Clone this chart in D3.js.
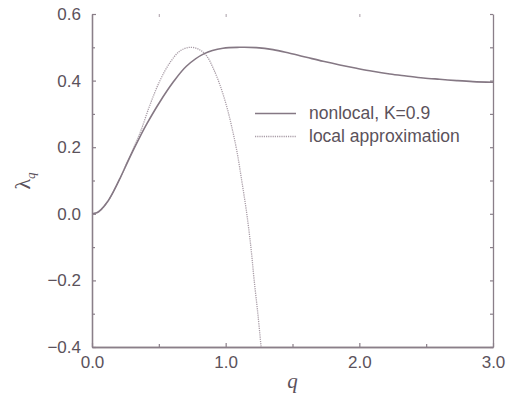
<!DOCTYPE html>
<html>
<head>
<meta charset="utf-8">
<script src="https://cdn.jsdelivr.net/npm/d3@7"></script>
<style>
  html, body { margin: 0; padding: 0; background: #fff; }
  svg { display: block; }
  text { font-family: "Liberation Sans", Arial, Helvetica, sans-serif; fill: #5b525b; }
</style>
</head>
<body>
<svg id="chart" width="509" height="398"></svg>
<script>
// Growth rate lambda_q versus wavenumber q
const nonlocalQ = [0, 0.035, 0.066, 0.116, 0.166, 0.216, 0.266, 0.316, 0.366, 0.41, 0.506, 0.605, 0.706, 0.84, 0.98, 1.105, 1.23, 1.354, 1.479, 1.604, 1.729, 1.854, 1.979, 2.1, 2.228, 2.35, 2.478, 2.6, 2.73, 2.85, 3.0];
const nonlocalL = [0, 0.003, 0.012, 0.036, 0.071, 0.112, 0.155, 0.197, 0.237, 0.27, 0.335, 0.394, 0.443, 0.481, 0.497, 0.5, 0.499, 0.493, 0.482, 0.47, 0.458, 0.447, 0.437, 0.428, 0.42, 0.414, 0.408, 0.404, 0.4, 0.397, 0.395];

const localQ = [0, 0.035, 0.066, 0.116, 0.166, 0.216, 0.266, 0.316, 0.366, 0.43, 0.506, 0.58, 0.655, 0.733, 0.808, 0.858, 0.907, 0.958, 1.008, 1.045, 1.083, 1.122, 1.158, 1.19, 1.212, 1.242, 1.265];
const localL = [0, 0.003, 0.012, 0.036, 0.071, 0.112, 0.157, 0.202, 0.25, 0.323, 0.398, 0.452, 0.488, 0.5, 0.492, 0.474, 0.437, 0.386, 0.322, 0.262, 0.19, 0.095, 0.0, -0.105, -0.195, -0.305, -0.4];

const xMajorTicks = [0, 1, 2, 3];
const xMinorTicks = [0.5, 1.5, 2.5];
const topTicks = [0.5, 1, 2];
const yMajorTicks = [-0.4, -0.2, 0, 0.2, 0.4, 0.6];
const yMinorTicks = [-0.3, -0.1, 0.1, 0.3, 0.5];
const legendLabels = ["nonlocal, K=0.9", "local approximation"];

const axisColor = "#8a7f89";
const solidColor = "#857884";
const dotColor = "#a89ca6";

const svg = d3.select("#chart");
const plotLeft = 92, plotRight = 493, plotTop = 14, plotBottom = 347;

const x = d3.scaleLinear().domain([0, 3]).range([plotLeft, plotRight]);
const y = d3.scaleLinear().domain([-0.4, 0.6]).range([plotBottom, plotTop]);

const fmt = v => (v < 0 ? "\u2212" : "") + Math.abs(v).toFixed(1);

function styleAxis(g) {
  g.selectAll(".domain").attr("stroke", axisColor).attr("stroke-width", 1.3);
  g.selectAll(".tick line").attr("stroke", axisColor).attr("stroke-width", 1.2);
  g.selectAll(".tick text").attr("fill", "#5b525b")
    .style("font-family", "'Liberation Sans', Arial, sans-serif").style("font-size", "17px");
}

// left axis with labels
svg.append("g").attr("transform", `translate(${plotLeft},0)`)
  .call(d3.axisLeft(y).tickValues(yMajorTicks).tickSize(-4).tickPadding(11).tickFormat(fmt).tickSizeOuter(0))
  .call(styleAxis);
svg.append("g").attr("transform", `translate(${plotLeft},0)`)
  .call(d3.axisLeft(y).tickValues(yMinorTicks).tickSize(-3).tickFormat("").tickSizeOuter(0))
  .call(styleAxis);

// right axis, ticks only
svg.append("g").attr("transform", `translate(${plotRight},0)`)
  .call(d3.axisRight(y).tickValues(yMajorTicks.concat(yMinorTicks)).tickSize(-3).tickFormat("").tickSizeOuter(0))
  .call(styleAxis);

// bottom axis with labels
svg.append("g").attr("transform", `translate(0,${plotBottom})`)
  .call(d3.axisBottom(x).tickValues(xMajorTicks).tickSize(-4).tickPadding(9).tickFormat(d => d.toFixed(1)).tickSizeOuter(0))
  .call(styleAxis);
svg.append("g").attr("transform", `translate(0,${plotBottom})`)
  .call(d3.axisBottom(x).tickValues(xMinorTicks).tickSize(-3).tickFormat("").tickSizeOuter(0))
  .call(styleAxis);

// top ticks (no frame line)
const topAxis = svg.append("g").attr("transform", `translate(0,${plotTop})`)
  .call(d3.axisTop(x).tickValues(topTicks).tickSize(-3).tickFormat("").tickSizeOuter(0))
  .call(styleAxis);
topAxis.select(".domain").remove();
topAxis.selectAll(".tick line").attr("stroke", "#b8aeb6");

// curves
const line = d3.line().x(d => x(d[0])).y(d => y(d[1])).curve(d3.curveCatmullRom.alpha(0.5));
const nonlocalData = nonlocalQ.map((q, i) => [q, nonlocalL[i]]);
const localData = localQ.map((q, i) => [q, localL[i]]);

svg.append("clipPath").attr("id", "plotClip")
  .append("rect").attr("x", plotLeft).attr("y", plotTop - 2)
  .attr("width", plotRight - plotLeft).attr("height", plotBottom - plotTop + 2);

svg.append("path").datum(localData)
  .attr("d", line).attr("fill", "none")
  .attr("stroke", dotColor).attr("stroke-width", 1.3)
  .attr("stroke-dasharray", "1.2,1")
  .attr("clip-path", "url(#plotClip)");

svg.append("path").datum(nonlocalData)
  .attr("d", line).attr("fill", "none")
  .attr("stroke", solidColor).attr("stroke-width", 1.6)
  .attr("clip-path", "url(#plotClip)");

// legend
const legend = svg.append("g");
const legendRows = [
  { label: legendLabels[0], color: solidColor, dash: null, w: 1.6, ly: 113.5 },
  { label: legendLabels[1], color: dotColor, dash: "1.2,1", w: 1.3, ly: 136.5 }
];
legendRows.forEach(r => {
  legend.append("line")
    .attr("x1", 255).attr("x2", 296).attr("y1", r.ly).attr("y2", r.ly)
    .attr("stroke", r.color).attr("stroke-width", r.w)
    .attr("stroke-dasharray", r.dash);
  legend.append("text")
    .attr("x", 309).attr("y", r.ly + 5.5)
    .style("font-size", "17.5px")
    .text(r.label);
});

// axis titles
svg.append("text")
  .attr("x", x(1.5)).attr("y", 388)
  .attr("text-anchor", "middle")
  .style("font-family", "'Liberation Serif', 'Times New Roman', serif")
  .style("font-style", "italic").style("font-size", "21px")
  .text("q");

const yTitle = svg.append("text")
  .attr("transform", "translate(30,181) rotate(-90)")
  .attr("text-anchor", "middle")
  .style("font-family", "'Liberation Serif', 'Times New Roman', serif")
  .style("font-size", "22px");
yTitle.append("tspan").text("\u03bb");
yTitle.append("tspan").attr("dy", 5).style("font-size", "13px").style("font-style", "italic").text("q");
</script>
</body>
</html>
